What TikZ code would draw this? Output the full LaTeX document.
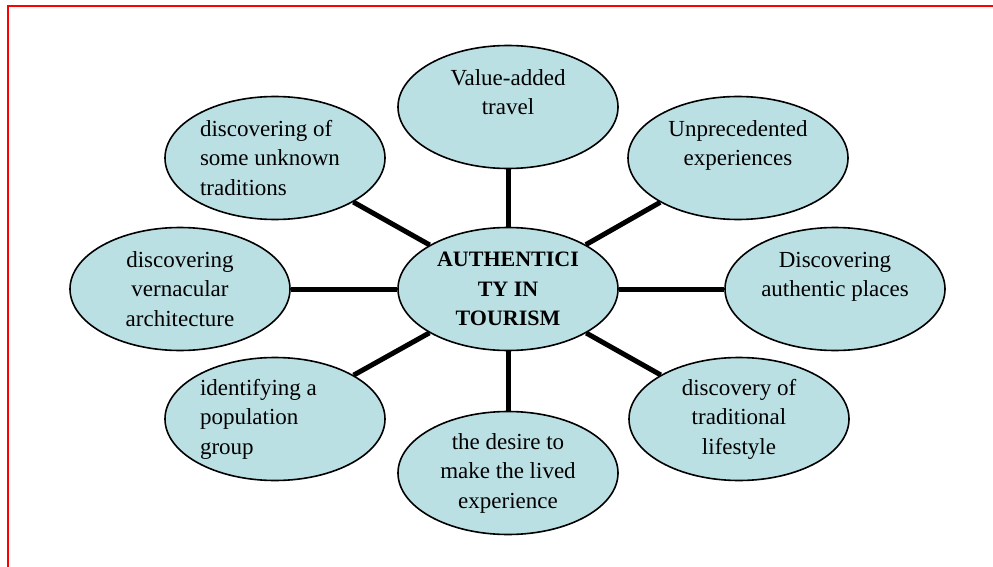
\documentclass[tikz,border=0pt]{standalone}
\usepackage{fontspec}
\setmainfont{Liberation Serif}
\usepackage{tikz}
\usetikzlibrary{shapes.geometric}
\definecolor{bubblefill}{RGB}{187,224,228}
\definecolor{frame}{RGB}{255,0,0}

\begin{document}
\begin{tikzpicture}[
x=1pt, y=-1pt,
bubble/.style={ellipse, draw=black, line width=1.6pt, fill=bubblefill, minimum width=220pt, minimum height=123pt, inner sep=0pt, font=\fontsize{23}{29.5}\selectfont},
centred/.style={bubble, align=center},
lefted/.style={bubble, text width=150pt, align=flush left},
hub/.style={centred, font=\fontsize{22}{29.5}\selectfont\bfseries},
link/.style={draw=black, line width=5pt},
]
\useasboundingbox (0,0) rectangle (993,567);

% frame
\draw[frame, line width=2pt] (993,6) -- (8,6) -- (8,567);

\node[hub] (hub) at (508,289) {AUTHENTICI\\TY IN\\TOURISM};
\node[centred] (travel) at (508,107) {Value-added\\travel\\~};
\node[lefted] (traditions) at (275,158) {discovering of\\some unknown\\traditions};
\node[centred] (unprec) at (738,158) {Unprecedented\\experiences\\~};
\node[centred] (vernacular) at (180,289) {discovering\\vernacular\\architecture};
\node[centred] (places) at (835,289) {Discovering\\authentic places\\~};
\node[lefted] (population) at (275,419) {identifying a\\population\\group};
\node[centred] (lifestyle) at (739,419) {discovery of\\traditional\\lifestyle};
\node[centred] (desire) at (508,473) {the desire to\\make the lived\\experience};

\draw[link] (hub) -- (travel);
\draw[link] (hub) -- (traditions);
\draw[link] (hub) -- (unprec);
\draw[link] (hub) -- (vernacular);
\draw[link] (hub) -- (places);
\draw[link] (hub) -- (population);
\draw[link] (hub) -- (lifestyle);
\draw[link] (hub) -- (desire);

\end{tikzpicture}
\end{document}
